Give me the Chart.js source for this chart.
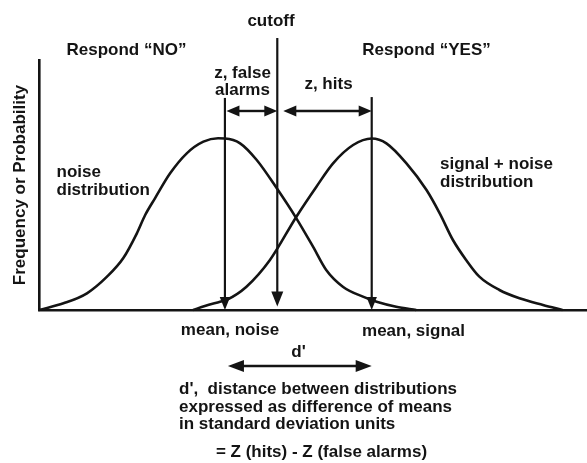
<!DOCTYPE html>
<html>
<head>
<meta charset="utf-8">
<script src="https://cdn.jsdelivr.net/npm/chart.js@4.4.1/dist/chart.umd.min.js"></script>
<style>
  html, body { margin: 0; padding: 0; background: #ffffff; }
  #wrap { width: 587px; height: 463px; position: relative; }
</style>
</head>
<body>
<div id="wrap"><canvas id="sdt" width="587" height="463"></canvas></div>
<script>
// Decision axis in standard-deviation units; noise mean at 0.
const noiseX  = [-3.8, -3.30, -2.82, -2.41, -2.08, -1.80, -1.63, -1.43, -1.12, -0.78, -0.44, -0.14, 0.0, 0.31, 0.65, 1.06, 1.46, 1.80, 2.07, 2.41, 2.82, 3.10, 3.50, 3.91];
const noiseY  = [0.0, 0.0155, 0.0387, 0.0773, 0.1199, 0.1779, 0.2204, 0.2591, 0.3171, 0.3635, 0.3905, 0.3984, 0.398, 0.3867, 0.348, 0.2823, 0.2127, 0.147, 0.0928, 0.0541, 0.0309, 0.0193, 0.0077, 0.0];
const signalX = [-0.65, -0.41, -0.10, 0.03, 0.44, 0.92, 1.46, 1.87, 2.21, 2.62, 3.0, 3.30, 3.71, 4.12, 4.39, 4.66, 4.93, 5.20, 5.61, 6.02, 6.50, 6.90];
const signalY = [0.0, 0.0093, 0.019, 0.0232, 0.0541, 0.116, 0.2165, 0.2861, 0.3403, 0.3828, 0.398, 0.3867, 0.3403, 0.2784, 0.2243, 0.1624, 0.116, 0.0773, 0.0464, 0.0271, 0.0116, 0.0];

// Key positions on the decision axis
const noiseMean  = 0.0;
const signalMean = 3.0;
const cutoff     = 1.07;

const ink = '#141414';
const FONT = 'bold 17px "Liberation Sans", Arial, Helvetica, sans-serif';

const toPoints = (xs, ys) => xs.map((x, i) => ({ x: x, y: ys[i] }));

// Arrows and annotation text drawn on top of the curves
const annotate = {
  id: 'annotate',
  afterDatasetsDraw(chart) {
    const ctx = chart.ctx;
    const xs = chart.scales.x, ys = chart.scales.y;
    const px = v => xs.getPixelForValue(v);
    const py = v => ys.getPixelForValue(v);

    ctx.save();
    ctx.strokeStyle = ink;
    ctx.fillStyle = ink;
    ctx.lineCap = 'butt';

    function head(tx, ty, dx, dy, len, half) {
      ctx.beginPath();
      ctx.moveTo(tx, ty);
      ctx.lineTo(tx - dx * len - dy * half, ty - dy * len + dx * half);
      ctx.lineTo(tx - dx * len + dy * half, ty - dy * len - dx * half);
      ctx.closePath();
      ctx.fill();
    }
    function line(x1, y1, x2, y2, w) {
      ctx.lineWidth = w;
      ctx.beginPath();
      ctx.moveTo(x1, y1);
      ctx.lineTo(x2, y2);
      ctx.stroke();
    }
    function down(xv, topV, tipV, len, half) {
      const x = px(xv), y1 = py(topV), y2 = py(tipV);
      line(x, y1, x, y2 - len + 1, 2.2);
      head(x, y2, 0, 1, len, half);
    }
    function both(xa, xb, yv, len, half, gapA) {
      const a = px(xa) + (gapA || 0), b = px(xb), y = py(yv);
      line(a + len - 1, y, b - len + 1, y, 2.4);
      head(a, y, -1, 0, len, half);
      head(b, y, 1, 0, len, half);
    }

    // vertical markers
    down(noiseMean, 0.492, 0.0, 13, 5.2);
    down(cutoff, 0.631, 0.008, 15, 6);
    down(signalMean, 0.494, 0.0, 13, 5.2);

    // z distances either side of the cutoff
    both(noiseMean, cutoff, 0.4617, 13, 5.5, 1.5);
    both(cutoff, signalMean, 0.4617, 13, 5.5, 6);

    // d' between the two means
    both(noiseMean, signalMean, -0.13, 16, 6, 3);

    // text
    ctx.font = FONT;
    ctx.textBaseline = 'alphabetic';
    const texts = [
      ['cutoff', 271, 26, 'center'],
      ['Respond \u201CNO\u201D', 126.5, 55, 'center'],
      ['Respond \u201CYES\u201D', 426.5, 55, 'center'],
      ['z, false', 242.5, 77.5, 'center'],
      ['alarms', 242.5, 94.5, 'center'],
      ['z, hits', 328.5, 88.5, 'center'],
      ['noise', 56.5, 177, 'left'],
      ['distribution', 56.5, 194.5, 'left'],
      ['signal + noise', 440, 168.5, 'left'],
      ['distribution', 440, 186.5, 'left'],
      ['mean, noise', 230, 335, 'center'],
      ['mean, signal', 413.5, 335.5, 'center'],
      ["d'", 298.5, 357, 'center'],
      ["d',  distance between distributions", 179, 394, 'left'],
      ['expressed as difference of means', 179, 411.5, 'left'],
      ['in standard deviation units', 179, 429, 'left'],
      ['= Z (hits) - Z (false alarms)', 321.5, 457, 'center']
    ];
    texts.forEach(t => {
      ctx.textAlign = t[3];
      ctx.fillText(t[0], t[1], t[2]);
    });
    ctx.restore();
  }
};

const curveStyle = {
  borderColor: ink,
  borderWidth: 2.6,
  pointRadius: 0,
  fill: false,
  cubicInterpolationMode: 'monotone',
  clip: false
};

new Chart(document.getElementById('sdt'), {
  type: 'line',
  data: {
    datasets: [
      Object.assign({ label: 'noise distribution', data: toPoints(noiseX, noiseY) }, curveStyle),
      Object.assign({ label: 'signal + noise distribution', data: toPoints(signalX, signalY) }, curveStyle)
    ]
  },
  options: {
    responsive: false,
    animation: false,
    devicePixelRatio: 1,
    layout: { padding: { top: 60, left: 0, right: 0, bottom: 153 } },
    plugins: { legend: { display: false }, tooltip: { enabled: false } },
    scales: {
      x: {
        type: 'linear',
        min: -3.8,
        max: 7.4,
        ticks: { display: false },
        grid: { display: false, drawTicks: false },
        border: { display: true, color: ink, width: 2.6 },
        afterFit: s => { s.height = 0; }
      },
      y: {
        min: 0,
        max: 0.58,
        ticks: { display: false },
        grid: { display: false, drawTicks: false },
        border: { display: true, color: ink, width: 2.6 },
        title: {
          display: true,
          text: 'Frequency or Probability',
          color: ink,
          font: { family: '"Liberation Sans", Arial, Helvetica, sans-serif', size: 17, weight: 'bold' },
          padding: { top: 10, bottom: 0 }
        },
        afterFit: s => { s.width = 39; }
      }
    }
  },
  plugins: [annotate]
});
</script>
</body>
</html>
